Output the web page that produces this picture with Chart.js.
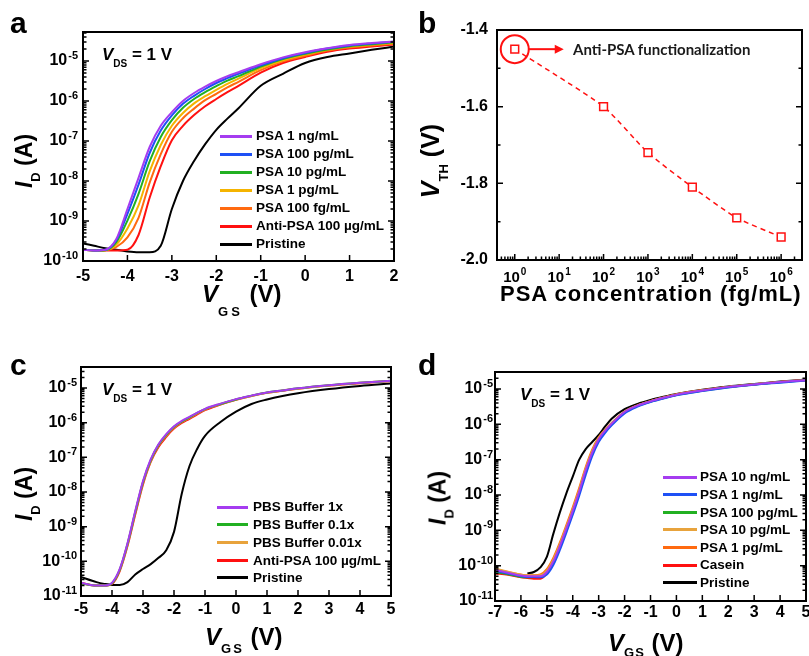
<!DOCTYPE html>
<html>
<head>
<meta charset="utf-8">
<script src="https://cdn.jsdelivr.net/npm/chart.js@4.4.1/dist/chart.umd.min.js"></script>
<style>
html, body { margin: 0; padding: 0; background: #fff; }
#fig { position: relative; width: 809px; height: 656px; overflow: hidden; background: #fff; }
#fig canvas { position: absolute; }
.tx { position: absolute; font-family: "Liberation Sans", Arial, sans-serif; font-weight: bold;
      white-space: nowrap; line-height: 1; color: #000; }
.rot { transform: translate(-50%, -50%) rotate(-90deg); }
.sb { position: relative; }
.lg { position: absolute; height: 3px; }
.ann { position: absolute; font-family: Lato, "Open Sans", sans-serif; font-weight: bold;
       white-space: nowrap; line-height: 1; color: #1a1a1a; }
</style>
</head>
<body>
<div id="fig">
  <canvas id="ca" width="405" height="328" style="left:0;top:0"></canvas>
  <canvas id="cb" width="404" height="328" style="left:405px;top:0"></canvas>
  <canvas id="cc" width="405" height="328" style="left:0;top:328px"></canvas>
  <canvas id="cd" width="404" height="328" style="left:405px;top:328px"></canvas>

  <!-- panel letters -->
  <div class="tx" style="left:10px;top:8px;font-size:30px">a</div>
  <div class="tx" style="left:418px;top:8px;font-size:30px">b</div>
  <div class="tx" style="left:10px;top:350px;font-size:30px">c</div>
  <div class="tx" style="left:418px;top:350px;font-size:30px">d</div>

  <!-- V_DS notes -->
  <div class="tx" style="left:102px;top:45.6px;font-size:17px"><i>V</i><span class="sb" style="font-size:10px;top:7px">DS</span> = 1 V</div>
  <div class="tx" style="left:102px;top:380.6px;font-size:17px"><i>V</i><span class="sb" style="font-size:10px;top:7px">DS</span> = 1 V</div>
  <div class="tx" style="left:520px;top:385.6px;font-size:17px"><i>V</i><span class="sb" style="font-size:10px;top:7px">DS</span> = 1 V</div>

  <!-- axis titles -->
  <div class="tx" style="left:202px;top:281.7px;font-size:24px"><i>V</i><span class="sb" style="font-size:13px;top:14px;letter-spacing:3px">GS</span> (V)</div>
  <div class="tx" style="left:205px;top:624.7px;font-size:24px"><i>V</i><span class="sb" style="font-size:13px;top:8px;letter-spacing:2px">GS</span> (V)</div>
  <div class="tx" style="left:608px;top:630.7px;font-size:24px"><i>V</i><span class="sb" style="font-size:13px;top:6px;letter-spacing:1px">GS</span> (V)</div>
  <div class="tx" style="left:500px;top:283.4px;font-size:22px;letter-spacing:1px">PSA concentration (fg/mL)</div>

  <div class="tx rot" style="left:24px;top:161px;font-size:23px"><i>I</i><span class="sb" style="font-size:13px;top:8px">D</span> (A)</div>
  <div class="tx rot" style="left:24px;top:494px;font-size:23px"><i>I</i><span class="sb" style="font-size:13px;top:8px">D</span> (A)</div>
  <div class="tx rot" style="left:438px;top:498px;font-size:23px"><i>I</i><span class="sb" style="font-size:13px;top:8px">D</span> (A)</div>
  <div class="tx rot" style="left:430px;top:161px;font-size:25px"><i>V</i><span class="sb" style="font-size:13px;top:9px">TH</span> (V)</div>

  <div class="ann" style="left:573px;top:42px;font-size:15px">Anti-PSA functionalization</div>
</div>

<script>
const FONT = '"Liberation Sans", Arial, sans-serif';

// ---------- panel a : transfer curves, VGS from -5 to 2 V ----------
const aVgs = [-5, -4.75, -4.5, -4.25, -4, -3.75, -3.5, -3.25, -3, -2.75, -2.5, -2.25, -2, -1.75, -1.5, -1, -0.5, 0, 0.5, 1, 1.5, 2];
// log10 of ID (A)
const aPsa1ng   = [-9.72, -9.74, -9.72, -9.45, -8.70, -7.92, -7.15, -6.62, -6.28, -6.00, -5.80, -5.64, -5.50, -5.38, -5.28, -5.08, -4.91, -4.78, -4.68, -4.60, -4.55, -4.51];
const aPsa100pg = [-9.72, -9.74, -9.72, -9.48, -8.82, -8.09, -7.30, -6.74, -6.36, -6.07, -5.87, -5.70, -5.55, -5.43, -5.32, -5.11, -4.93, -4.80, -4.69, -4.61, -4.56, -4.52];
const aPsa10pg  = [-9.72, -9.74, -9.73, -9.53, -8.99, -8.32, -7.51, -6.90, -6.48, -6.17, -5.95, -5.78, -5.63, -5.49, -5.38, -5.14, -4.95, -4.82, -4.71, -4.63, -4.58, -4.53];
const aPsa1pg   = [-9.72, -9.74, -9.73, -9.59, -9.19, -8.61, -7.76, -7.10, -6.62, -6.30, -6.06, -5.88, -5.72, -5.57, -5.44, -5.18, -4.98, -4.84, -4.72, -4.64, -4.59, -4.55];
const aPsa100fg = [-9.72, -9.74, -9.73, -9.65, -9.41, -8.92, -8.04, -7.33, -6.77, -6.43, -6.19, -5.98, -5.82, -5.66, -5.52, -5.23, -5.01, -4.87, -4.74, -4.66, -4.61, -4.57];
const aAntiPsa  = [-9.72, -9.74, -9.74, -9.74, -9.72, -9.35, -8.42, -7.63, -6.98, -6.62, -6.35, -6.13, -5.95, -5.78, -5.62, -5.29, -5.05, -4.90, -4.77, -4.69, -4.64, -4.59];
const aPristine = [-9.56, -9.62, -9.68, -9.72, -9.76, -9.78, -9.78, -9.62, -8.70, -8.00, -7.50, -7.08, -6.72, -6.44, -6.18, -5.62, -5.32, -5.05, -4.90, -4.81, -4.72, -4.64];
const aLabels = ['PSA 1 ng/mL', 'PSA 100 pg/mL', 'PSA 10 pg/mL', 'PSA 1 pg/mL', 'PSA 100 fg/mL', 'Anti-PSA 100 µg/mL', 'Pristine'];
const aXTicks = [-5, -4, -3, -2, -1, 0, 1, 2];
const aYDecades = [-10, -9, -8, -7, -6, -5];

// ---------- panel b : threshold voltage vs PSA concentration ----------
const bConc = [1, 100, 1000, 10000, 100000, 1000000];   // fg/mL
const bVth  = [-1.45, -1.60, -1.72, -1.81, -1.89, -1.94]; // V
const bXDecades = [0, 1, 2, 3, 4, 5, 6];
const bYTicks = [-2.0, -1.8, -1.6, -1.4];
const bYMinor = [-1.9, -1.7, -1.5];

// ---------- panel c : buffer control, VGS from -5 to 5 V ----------
const cVgs = [-5, -4.5, -4.25, -4, -3.75, -3.5, -3.25, -3, -2.75, -2.5, -2.25, -2, -1.75, -1.5, -1.25, -1, -0.5, 0, 0.5, 1, 1.5, 2, 3, 4, 5];
const cPbs1x    = [-10.62, -10.70, -10.70, -10.62, -10.22, -9.48, -8.55, -7.68, -7.05, -6.62, -6.33, -6.10, -5.95, -5.83, -5.71, -5.60, -5.45, -5.32, -5.22, -5.13, -5.07, -5.01, -4.92, -4.85, -4.79];
const cPbs01x   = [-10.63, -10.70, -10.70, -10.63, -10.24, -9.50, -8.58, -7.71, -7.08, -6.64, -6.35, -6.12, -5.97, -5.85, -5.72, -5.61, -5.46, -5.33, -5.22, -5.13, -5.07, -5.01, -4.92, -4.85, -4.79];
const cPbs001x  = [-10.63, -10.70, -10.70, -10.64, -10.25, -9.52, -8.60, -7.73, -7.10, -6.66, -6.37, -6.14, -5.98, -5.86, -5.73, -5.62, -5.47, -5.33, -5.23, -5.14, -5.07, -5.02, -4.93, -4.85, -4.80];
const cAntiPsa  = [-10.62, -10.70, -10.70, -10.65, -10.28, -9.56, -8.65, -7.78, -7.13, -6.70, -6.41, -6.17, -6.01, -5.89, -5.76, -5.64, -5.48, -5.34, -5.23, -5.14, -5.08, -5.02, -4.93, -4.86, -4.80];
const cPristine = [-10.45, -10.60, -10.65, -10.68, -10.68, -10.60, -10.38, -10.22, -10.08, -9.90, -9.68, -9.15, -8.05, -7.25, -6.75, -6.38, -5.98, -5.68, -5.46, -5.33, -5.23, -5.15, -5.03, -4.94, -4.87];
const cLabels = ['PBS Buffer 1x', 'PBS Buffer 0.1x', 'PBS Buffer 0.01x', 'Anti-PSA 100 µg/mL', 'Pristine'];
const cXTicks = [-5, -4, -3, -2, -1, 0, 1, 2, 3, 4, 5];
const cYDecades = [-11, -10, -9, -8, -7, -6, -5];

// ---------- panel d : specificity, VGS from -7 to 5 V ----------
const dVgs = [-7, -6.5, -6, -5.75, -5.5, -5.25, -5, -4.75, -4.5, -4.25, -4, -3.75, -3.5, -3.25, -3, -2.75, -2.5, -2, -1.5, -1, -0.5, 0, 1, 2, 3, 4, 5];
const dPsa10ng  = [-10.12, -10.20, -10.28, -10.30, -10.30, -10.30, -10.18, -9.88, -9.45, -8.96, -8.45, -7.90, -7.30, -6.80, -6.42, -6.18, -5.98, -5.65, -5.47, -5.35, -5.25, -5.16, -5.04, -4.94, -4.87, -4.80, -4.75];
const dPsa1ng   = [-10.15, -10.22, -10.30, -10.32, -10.32, -10.33, -10.25, -9.98, -9.56, -9.07, -8.56, -8.02, -7.43, -6.90, -6.50, -6.24, -6.03, -5.69, -5.50, -5.37, -5.27, -5.18, -5.06, -4.96, -4.88, -4.82, -4.76];
const dPsa100pg = [-10.18, -10.24, -10.32, -10.33, -10.32, -10.32, -10.22, -9.93, -9.50, -9.01, -8.50, -7.95, -7.35, -6.84, -6.45, -6.21, -6.00, -5.67, -5.48, -5.36, -5.26, -5.17, -5.05, -4.95, -4.87, -4.81, -4.75];
const dPsa10pg  = [-10.08, -10.17, -10.26, -10.28, -10.28, -10.27, -10.14, -9.83, -9.40, -8.91, -8.40, -7.85, -7.25, -6.76, -6.39, -6.16, -5.97, -5.65, -5.47, -5.35, -5.25, -5.16, -5.04, -4.94, -4.87, -4.80, -4.75];
const dPsa1pg   = [-10.10, -10.18, -10.25, -10.27, -10.27, -10.25, -10.10, -9.78, -9.35, -8.86, -8.35, -7.80, -7.21, -6.72, -6.37, -6.15, -5.96, -5.64, -5.46, -5.34, -5.24, -5.15, -5.03, -4.94, -4.87, -4.80, -4.75];
const dCasein   = [-10.22, -10.26, -10.33, -10.35, -10.37, -10.37, -10.22, -9.90, -9.47, -8.98, -8.47, -7.92, -7.32, -6.82, -6.43, -6.19, -5.99, -5.66, -5.47, -5.35, -5.25, -5.16, -5.04, -4.94, -4.87, -4.80, -4.75];
const dPristineVgs = [-5.75, -5.5, -5.25, -5, -4.75, -4.5, -4.25, -4, -3.75, -3.5, -3.25, -3, -2.75, -2.5, -2, -1.5, -1, -0.5, 0, 1, 2, 3, 4, 5];
const dPristine = [-10.22, -10.18, -10.05, -9.75, -9.10, -8.50, -7.96, -7.48, -7.00, -6.70, -6.50, -6.30, -6.06, -5.84, -5.57, -5.42, -5.31, -5.22, -5.14, -5.02, -4.93, -4.86, -4.79, -4.73];
const dLabels = ['PSA 10 ng/mL', 'PSA 1 ng/mL', 'PSA 100 pg/mL', 'PSA 10 pg/mL', 'PSA 1 pg/mL', 'Casein', 'Pristine'];
const dXTicks = [-7, -6, -5, -4, -3, -2, -1, 0, 1, 2, 3, 4, 5];
const dYDecades = [-11, -10, -9, -8, -7, -6, -5];

// line colours
const PURPLE = '#a53cf0', BLUE = '#1e50f5', GREEN = '#22b022', GOLD = '#f5b400',
      TAN = '#e8a33c', ORANGE = '#ff6a10', RED = '#ff1010', BLACK = '#000000';

// ---------- helpers ----------
function curve(label, xs, logs, color) {
  return {
    label: label,
    data: xs.map((v, i) => ({ x: v, y: Math.pow(10, logs[i]) })),
    borderColor: color,
    borderWidth: 2,
    pointRadius: 0,
    fill: false,
    cubicInterpolationMode: 'monotone'
  };
}

function logMinors(lo, hi) {
  const out = [];
  for (let d = Math.floor(Math.log10(lo)); d <= Math.ceil(Math.log10(hi)); d++) {
    for (let k = 2; k <= 9; k++) {
      const v = k * Math.pow(10, d);
      if (v > lo && v < hi) out.push(v);
    }
  }
  return out;
}

function drawLabel(ctx, lab, x, y, align, st) {
  ctx.textBaseline = 'middle';
  if (Array.isArray(lab)) {
    ctx.font = 'bold ' + st.expFont + 'px ' + FONT;
    const w2 = ctx.measureText(lab[1]).width;
    ctx.font = 'bold ' + st.font + 'px ' + FONT;
    const w1 = ctx.measureText(lab[0]).width;
    const x0 = align === 'right' ? x - w1 - w2 - 1 : x - (w1 + w2 + 1) / 2;
    ctx.textAlign = 'left';
    ctx.fillText(lab[0], x0, y);
    ctx.font = 'bold ' + st.expFont + 'px ' + FONT;
    ctx.fillText(lab[1], x0 + w1 + 1, y - st.rise);
  } else {
    ctx.font = 'bold ' + st.font + 'px ' + FONT;
    ctx.textAlign = align;
    ctx.fillText(lab, x, y);
  }
}

// frame with inward ticks on left, right and bottom; labels outside
function framePlugin(cfg) {
  return {
    id: 'frame',
    afterDatasetsDraw(chart) {
      const ctx = chart.ctx, a = chart.chartArea;
      const px = v => chart.scales.x.getPixelForValue(v);
      const py = v => chart.scales.y.getPixelForValue(v);
      ctx.save();
      ctx.strokeStyle = '#000';
      ctx.fillStyle = '#000';
      ctx.lineWidth = 1.5;
      ctx.beginPath();
      const seg = (x1, y1, x2, y2) => { ctx.moveTo(x1, y1); ctx.lineTo(x2, y2); };
      cfg.xMajor.forEach(v => { const p = px(v); seg(p, a.bottom, p, a.bottom - 6); });
      cfg.xMinor.forEach(v => { const p = px(v); seg(p, a.bottom, p, a.bottom - 3.5); });
      cfg.yMajor.forEach(v => { const p = py(v); seg(a.left, p, a.left + 6, p); seg(a.right, p, a.right - 6, p); });
      cfg.yMinor.forEach(v => { const p = py(v); seg(a.left, p, a.left + 3.5, p); seg(a.right, p, a.right - 3.5, p); });
      ctx.stroke();
      ctx.lineWidth = 2;
      ctx.strokeRect(a.left, a.top, a.right - a.left, a.bottom - a.top);
      cfg.xMajor.forEach((v, i) => drawLabel(ctx, cfg.xLabels[i], px(v), a.bottom + cfg.xDy, 'center', cfg.xStyle));
      cfg.yMajor.forEach((v, i) => drawLabel(ctx, cfg.yLabels[i], a.left - cfg.yGap, py(v), 'right', cfg.yStyle));
      ctx.restore();
    }
  };
}

function options(pad, xType, xMin, xMax, yType, yMin, yMax) {
  return {
    responsive: false,
    animation: false,
    devicePixelRatio: 1,
    layout: { padding: pad },
    plugins: { legend: { display: false }, tooltip: { enabled: false } },
    scales: {
      x: { type: xType, min: xMin, max: xMax, display: false, bounds: 'data' },
      y: { type: yType, min: yMin, max: yMax, display: false, bounds: 'data' }
    }
  };
}

const fig = document.getElementById('fig');
function legend(x0, x1, xt, yc, step, labels, colors) {
  labels.forEach((lab, i) => {
    const y = yc + i * step;
    const ln = document.createElement('div');
    ln.className = 'lg';
    ln.style.cssText = 'left:' + x0 + 'px;top:' + (y - 1.5) + 'px;width:' + (x1 - x0) + 'px;background:' + colors[i];
    const t = document.createElement('div');
    t.className = 'tx';
    t.style.cssText = 'left:' + xt + 'px;top:' + (y - 6.6) + 'px;font-size:13.5px';
    t.textContent = lab;
    fig.appendChild(ln);
    fig.appendChild(t);
  });
}

const sciStyle = { font: 16, expFont: 11, rise: 5 };
const linStyle = { font: 16 };

// ---------- panel a ----------
const aColors = [PURPLE, BLUE, GREEN, GOLD, ORANGE, RED, BLACK];
const aSeries = [aPsa1ng, aPsa100pg, aPsa10pg, aPsa1pg, aPsa100fg, aAntiPsa, aPristine];
const aMin = 1e-10, aMax = Math.pow(10, -4.275);
new Chart(document.getElementById('ca'), {
  type: 'line',
  data: { datasets: aSeries.map((s, i) => curve(aLabels[i], aVgs, s, aColors[i])) },
  options: options({ left: 83, top: 32, right: 11, bottom: 67 }, 'linear', -5, 2, 'logarithmic', aMin, aMax),
  plugins: [framePlugin({
    xMajor: aXTicks, xMinor: [], xLabels: aXTicks.map(String), xDy: 16, xStyle: linStyle,
    yMajor: aYDecades.map(d => Math.pow(10, d)), yMinor: logMinors(aMin, aMax),
    yLabels: aYDecades.map(d => ['10', String(d)]), yGap: 5, yStyle: sciStyle
  })]
});
legend(220, 252, 256, 136, 18, aLabels, aColors);

// ---------- panel b ----------
const bMin = Math.pow(10, -0.4), bMax = Math.pow(10, 6.47);
const bAnnot = {
  id: 'bannot',
  afterDatasetsDraw(chart) {
    const ctx = chart.ctx;
    const cx = chart.scales.x.getPixelForValue(bConc[0]);
    const cy = chart.scales.y.getPixelForValue(bVth[0]);
    ctx.save();
    ctx.strokeStyle = RED;
    ctx.fillStyle = RED;
    ctx.lineWidth = 2;
    ctx.beginPath();
    ctx.arc(cx, cy, 14, 0, Math.PI * 2);
    ctx.stroke();
    ctx.beginPath();
    ctx.moveTo(cx + 14, cy);
    ctx.lineTo(cx + 42, cy);
    ctx.stroke();
    ctx.beginPath();
    ctx.moveTo(cx + 40, cy - 4.5);
    ctx.lineTo(cx + 49, cy);
    ctx.lineTo(cx + 40, cy + 4.5);
    ctx.closePath();
    ctx.fill();
    ctx.restore();
  }
};
new Chart(document.getElementById('cb'), {
  type: 'line',
  data: {
    datasets: [{
      label: 'VTH',
      data: bConc.map((c, i) => ({ x: c, y: bVth[i] })),
      borderColor: RED,
      borderWidth: 1.5,
      borderDash: [5, 4],
      tension: 0.2,
      pointStyle: 'rect',
      pointRadius: 5.5,
      pointBorderWidth: 1.5,
      pointBorderColor: RED,
      pointBackgroundColor: '#fff',
      fill: false
    }]
  },
  options: options({ left: 92, top: 30, right: 2, bottom: 68 }, 'logarithmic', bMin, bMax, 'linear', -2.0, -1.4),
  plugins: [framePlugin({
    xMajor: bXDecades.map(d => Math.pow(10, d)), xMinor: logMinors(bMin, bMax),
    xLabels: bXDecades.map(d => ['10', String(d)]), xDy: 18, xStyle: { font: 15, expFont: 10, rise: 6 },
    yMajor: bYTicks, yMinor: bYMinor, yLabels: bYTicks.map(v => v.toFixed(1)), yGap: 9, yStyle: linStyle
  }), bAnnot]
});

// ---------- panel c ----------
const cColors = [PURPLE, GREEN, TAN, RED, BLACK];
const cSeries = [cPbs1x, cPbs01x, cPbs001x, cAntiPsa, cPristine];
const cMin = 1e-11, cMax = Math.pow(10, -4.394);
new Chart(document.getElementById('cc'), {
  type: 'line',
  data: { datasets: cSeries.map((s, i) => curve(cLabels[i], cVgs, s, cColors[i])) },
  options: options({ left: 81, top: 39, right: 14, bottom: 60 }, 'linear', -5, 5, 'logarithmic', cMin, cMax),
  plugins: [framePlugin({
    xMajor: cXTicks, xMinor: [], xLabels: cXTicks.map(String), xDy: 14, xStyle: linStyle,
    yMajor: cYDecades.map(d => Math.pow(10, d)), yMinor: logMinors(cMin, cMax),
    yLabels: cYDecades.map(d => ['10', String(d)]), yGap: 4, yStyle: sciStyle
  })]
});
legend(217, 248, 253, 507, 17.7, cLabels, cColors);

// ---------- panel d ----------
const dColors = [PURPLE, BLUE, GREEN, TAN, ORANGE, RED, BLACK];
const dSeries = [dPsa10ng, dPsa1ng, dPsa100pg, dPsa10pg, dPsa1pg, dCasein];
const dMin = 1e-11, dMax = Math.pow(10, -4.519);
const dSets = dSeries.map((s, i) => curve(dLabels[i], dVgs, s, dColors[i]));
dSets.push(curve(dLabels[6], dPristineVgs, dPristine, BLACK));
new Chart(document.getElementById('cd'), {
  type: 'line',
  data: { datasets: dSets },
  options: options({ left: 90, top: 44, right: 3, bottom: 55 }, 'linear', -7, 5, 'logarithmic', dMin, dMax),
  plugins: [framePlugin({
    xMajor: dXTicks, xMinor: [], xLabels: dXTicks.map(String), xDy: 12, xStyle: linStyle,
    yMajor: dYDecades.map(d => Math.pow(10, d)), yMinor: logMinors(dMin, dMax),
    yLabels: dYDecades.map(d => ['10', String(d)]), yGap: 2, yStyle: sciStyle
  })]
});
legend(663, 697, 700, 477, 17.6, dLabels, dColors);
</script>
</body>
</html>
